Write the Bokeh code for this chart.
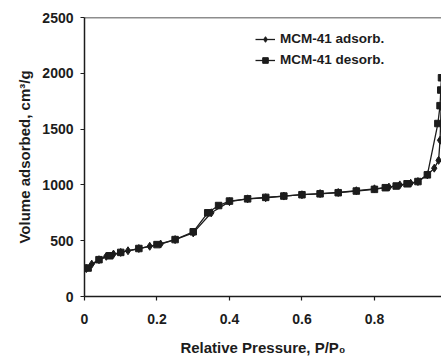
from bokeh.plotting import figure
from bokeh.models import Range1d, FixedTicker, Legend, LegendItem, Span
from bokeh.embed import file_html
from bokeh.resources import INLINE

# ---- data ----
ads_x = [0.005, 0.02, 0.04, 0.06, 0.08, 0.10, 0.12, 0.15, 0.18, 0.21, 0.25, 0.30,
         0.35, 0.40, 0.45, 0.50, 0.55, 0.60, 0.65, 0.70, 0.75, 0.80, 0.84, 0.87,
         0.90, 0.92, 0.946, 0.965, 0.977, 0.981, 0.984]
ads_y = [250, 290, 330, 360, 380, 395, 410, 430, 450, 470, 510, 570,
         750, 850, 875, 885, 900, 912, 922, 932, 948, 965, 980, 1000,
         1015, 1030, 1090, 1150, 1220, 1400, 1700]

des_x = [0.985, 0.983, 0.981, 0.975, 0.946, 0.92, 0.89, 0.86, 0.83, 0.80, 0.75,
         0.70, 0.65, 0.60, 0.55, 0.50, 0.45, 0.40, 0.37, 0.34, 0.30, 0.25, 0.20,
         0.15, 0.10, 0.07, 0.04, 0.01]
des_y = [1960, 1850, 1710, 1550, 1090, 1030, 1010, 990, 975, 960, 945,
         930, 920, 912, 900, 888, 875, 855, 815, 750, 580, 510, 465,
         430, 395, 365, 330, 255]

x_ticks = [0, 0.2, 0.4, 0.6, 0.8]
x_tick_labels = ["0", "0.2", "0.4", "0.6", "0.8"]
y_ticks = [0, 500, 1000, 1500, 2000, 2500]
series_names = ["MCM-41 adsorb.", "MCM-41 desorb."]

INK = "#1c1c1c"
FONT = "Liberation Sans"

p = figure(width=441, height=360, output_backend="svg", toolbar_location=None,
           x_range=Range1d(0, 0.985), y_range=Range1d(0, 2500),
           min_border_left=84, min_border_right=0, min_border_top=17,
           min_border_bottom=64)
p.outline_line_color = None
p.grid.visible = False
p.background_fill_color = "white"
p.border_fill_color = "white"

# top frame line
p.add_layout(Span(location=2500, dimension="width", line_color=INK, line_width=1.5))

l1 = p.line(ads_x, ads_y, line_color=INK, line_width=1.3)
s1 = p.scatter(ads_x, ads_y, marker="diamond", size=8, fill_color=INK, line_color=INK)
l2 = p.line(des_x, des_y, line_color=INK, line_width=1.3)
s2 = p.scatter(des_x, des_y, marker="square", size=6.5, fill_color=INK, line_color=INK)

legend = Legend(items=[LegendItem(label=series_names[0], renderers=[l1, s1]),
                       LegendItem(label=series_names[1], renderers=[l2, s2])],
                location=(171, 229), padding=0, margin=0, spacing=6,
                glyph_width=20, glyph_height=14, label_height=14,
                label_standoff=5, border_line_color=None,
                background_fill_alpha=0,
                label_text_font=FONT, label_text_font_style="bold",
                label_text_font_size="13.5px", label_text_color=INK)
p.add_layout(legend)

for ax in (p.xaxis[0], p.yaxis[0]):
    ax.axis_line_color = INK
    ax.axis_line_width = 1.5
    ax.major_tick_line_color = INK
    ax.major_tick_line_width = 1.2
    ax.major_tick_in = 0
    ax.major_tick_out = 4
    ax.minor_tick_line_color = None
    ax.major_label_text_font = FONT
    ax.major_label_text_font_style = "bold"
    ax.major_label_text_font_size = "14px"
    ax.major_label_text_color = INK
    ax.axis_label_text_font = FONT
    ax.axis_label_text_font_style = "bold"
    ax.axis_label_text_font_size = "15px"
    ax.axis_label_text_color = INK

p.xaxis[0].ticker = FixedTicker(ticks=x_ticks)
p.xaxis[0].major_label_overrides = {t: s for t, s in zip(x_ticks, x_tick_labels)}
p.xaxis[0].major_label_standoff = 13
p.xaxis[0].axis_label = "Relative Pressure, P/P\u2080"
p.xaxis[0].axis_label_standoff = 12

p.yaxis[0].ticker = FixedTicker(ticks=y_ticks)
p.yaxis[0].major_label_standoff = 7
p.yaxis[0].axis_label = "Volume adsorbed, cm\u00b3/g"
p.yaxis[0].axis_label_standoff = 6

open("out.html", "w").write(file_html(p, INLINE))
